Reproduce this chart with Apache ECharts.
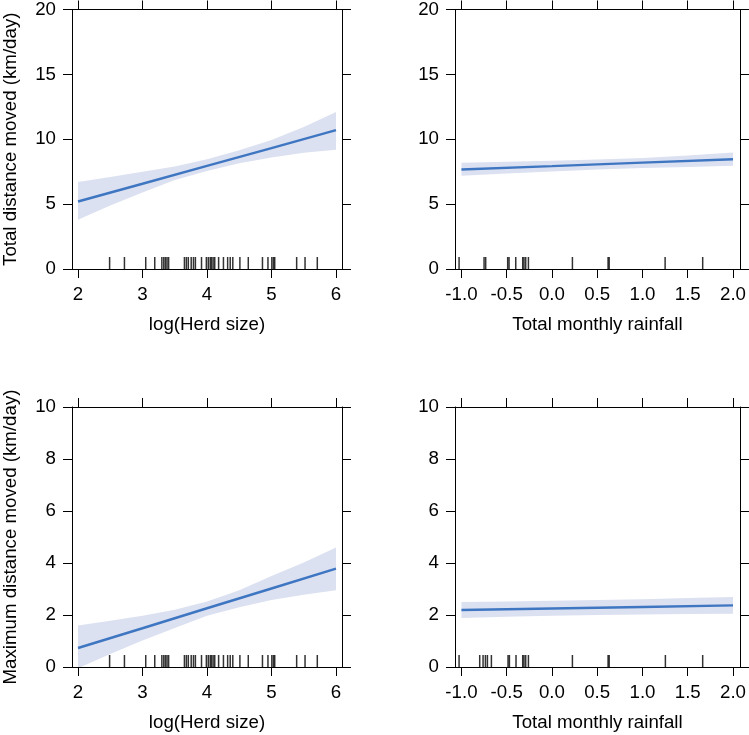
<!DOCTYPE html>
<html>
<head>
<meta charset="utf-8">
<script src="https://cdn.jsdelivr.net/npm/echarts@6/dist/echarts.min.js"></script>
<style>html,body{margin:0;padding:0;background:#fff}#c{width:749px;height:735px}</style>
</head>
<body>
<div id="c"></div>
<script>
// ---------- data ----------
const herdTicks = [2, 3, 4, 5, 6];
const rainTicks = [-1.0, -0.5, 0.0, 0.5, 1.0, 1.5, 2.0];
const totalTicks = [0, 5, 10, 15, 20];
const maxTicks = [0, 2, 4, 6, 8, 10];

const herdFitX = [2, 3, 4, 5, 6];
const totalHerdFit = [5.2, 6.57, 7.95, 9.32, 10.7];
const maxHerdFit = [0.73, 1.49, 2.26, 3.02, 3.78];

const herdBandX = [2, 2.5, 3, 3.5, 4, 4.5, 5, 5.5, 6];
const totalHerdUpper = [6.7, 7.1, 7.5, 7.9, 8.45, 9.15, 9.95, 10.95, 12.1];
const totalHerdLower = [3.8, 4.9, 5.9, 6.85, 7.55, 8.15, 8.6, 8.95, 9.2];
const maxHerdUpper = [1.6, 1.78, 1.97, 2.2, 2.52, 2.95, 3.5, 4.02, 4.6];
const maxHerdLower = [-0.05, 0.5, 1.02, 1.5, 1.97, 2.3, 2.58, 2.78, 2.95];

const rainFitX = [-1, 0, 1, 2];
const totalRainFit = [7.67, 7.93, 8.2, 8.46];
const maxRainFit = [2.19, 2.25, 2.31, 2.37];

const rainBandX = [-1, -0.5, 0, 0.5, 1, 1.5, 2];
const totalRainUpper = [8.18, 8.26, 8.34, 8.44, 8.56, 8.74, 8.97];
const totalRainLower = [7.18, 7.36, 7.52, 7.66, 7.78, 7.87, 7.95];
const maxRainUpper = [2.5, 2.52, 2.55, 2.58, 2.61, 2.65, 2.69];
const maxRainLower = [1.88, 1.93, 1.97, 2.0, 2.02, 2.04, 2.05];

const herdRug = [2.49, 2.72, 3.05, 3.19, 3.30, 3.33, 3.355, 3.38, 3.405, 3.65, 3.68, 3.71, 3.755,
  3.79, 3.82, 3.915, 3.99, 4.02, 4.05, 4.07, 4.095, 4.12, 4.18, 4.255, 4.32, 4.36, 4.40, 4.51,
  4.64, 4.86, 4.945, 5.005, 5.03, 5.05, 5.39, 5.52, 5.71];
const totalRainRug = [-1.026, -0.75, -0.732, -0.489, -0.474, -0.40, -0.323, -0.309, -0.29, -0.26,
  0.226, 0.62, 0.632, 1.25, 1.665];
const maxRainRug = [-1.026, -0.798, -0.761, -0.735, -0.713, -0.669, -0.485, -0.47, -0.397, -0.323,
  -0.309, -0.29, -0.26, 0.226, 0.62, 0.632, 1.253, 1.665];

// ---------- style ----------
const FONT = 'Liberation Sans';
const FS = 18.7;
const LINE = '#3f76c2';
const BAND = '#dce1f1';

const panels = [
  {grid: {left: 71, top: 9, width: 271, height: 260}, xr: [1.907, 6.093], xt: herdTicks, xfmt: v => String(v),
   yr: [0, 20], yi: 5, yt: totalTicks, xname: 'log(Herd size)', yname: 'Total distance moved (km/day)',
   fx: herdFitX, fy: totalHerdFit, bx: herdBandX, bu: totalHerdUpper, bl: totalHerdLower, rug: herdRug},
  {grid: {left: 455, top: 9, width: 285, height: 260}, xr: [-1.071, 2.077], xt: rainTicks, xfmt: v => v.toFixed(1),
   yr: [0, 20], yi: 5, yt: totalTicks, xname: 'Total monthly rainfall', yname: '',
   fx: rainFitX, fy: totalRainFit, bx: rainBandX, bu: totalRainUpper, bl: totalRainLower, rug: totalRainRug},
  {grid: {left: 71, top: 407, width: 271, height: 260}, xr: [1.907, 6.093], xt: herdTicks, xfmt: v => String(v),
   yr: [0, 10], yi: 2, yt: maxTicks, xname: 'log(Herd size)', yname: 'Maximum distance moved (km/day)',
   fx: herdFitX, fy: maxHerdFit, bx: herdBandX, bu: maxHerdUpper, bl: maxHerdLower, rug: herdRug},
  {grid: {left: 455, top: 407, width: 285, height: 260}, xr: [-1.071, 2.077], xt: rainTicks, xfmt: v => v.toFixed(1),
   yr: [0, 10], yi: 2, yt: maxTicks, xname: 'Total monthly rainfall', yname: '',
   fx: rainFitX, fy: maxRainFit, bx: rainBandX, bu: maxRainUpper, bl: maxRainLower, rug: maxRainRug}
];

const axLine = {show: true, onZero: false, lineStyle: {color: '#000', width: 1}};
const tickSt = {show: true, inside: false, length: 9, lineStyle: {color: '#000', width: 1}};
const txt = {color: '#000', fontFamily: FONT, fontSize: FS};

const grid = [], xAxis = [], yAxis = [], series = [];
panels.forEach((p, i) => {
  grid.push(Object.assign({containLabel: false}, p.grid));
  const xb = xAxis.length, yb = yAxis.length;
  xAxis.push({type: 'value', gridIndex: i, position: 'bottom', min: p.xr[0], max: p.xr[1],
    axisLine: axLine, splitLine: {show: false},
    axisTick: Object.assign({customValues: p.xt}, tickSt),
    axisLabel: Object.assign({customValues: p.xt, margin: 16, formatter: p.xfmt}, txt),
    name: p.xname, nameLocation: 'middle', nameGap: 46, nameTextStyle: txt});
  xAxis.push({type: 'value', gridIndex: i, position: 'top', min: p.xr[0], max: p.xr[1],
    axisLine: axLine, splitLine: {show: false},
    axisTick: Object.assign({customValues: p.xt}, tickSt), axisLabel: {show: false}});
  yAxis.push({type: 'value', gridIndex: i, position: 'left', min: p.yr[0], max: p.yr[1], interval: p.yi,
    axisLine: axLine, splitLine: {show: false}, axisTick: tickSt,
    axisLabel: Object.assign({margin: 16}, txt),
    name: p.yname, nameLocation: 'middle', nameGap: 52, nameRotate: 90, nameTextStyle: txt});
  yAxis.push({type: 'value', gridIndex: i, position: 'right', min: p.yr[0], max: p.yr[1], interval: p.yi,
    axisLine: axLine, splitLine: {show: false}, axisTick: tickSt, axisLabel: {show: false}});

  // confidence band polygon
  series.push({type: 'custom', xAxisIndex: xb, yAxisIndex: yb, clip: true, silent: true, z: 1,
    data: [0],
    renderItem: function (params, api) {
      const pts = [];
      p.bx.forEach((x, k) => pts.push(api.coord([x, p.bu[k]])));
      for (let k = p.bx.length - 1; k >= 0; k--) pts.push(api.coord([p.bx[k], p.bl[k]]));
      return {type: 'polygon', shape: {points: pts}, style: {fill: BAND}};
    }});
  // fitted line
  series.push({type: 'line', xAxisIndex: xb, yAxisIndex: yb, showSymbol: false, silent: true, z: 3,
    lineStyle: {color: LINE, width: 2.4}, data: p.fx.map((x, k) => [x, p.fy[k]])});
  // rug
  series.push({type: 'scatter', xAxisIndex: xb, yAxisIndex: yb, clip: false, silent: true, z: 2,
    symbol: 'rect', symbolSize: [1.5, 12], symbolOffset: [0, -6],
    itemStyle: {color: '#000'}, data: p.rug.map(x => [x, 0])});
});

const chart = echarts.init(document.getElementById('c'), null, {renderer: 'canvas'});
chart.setOption({animation: false, backgroundColor: '#fff', grid, xAxis, yAxis, series});
</script>
</body>
</html>
